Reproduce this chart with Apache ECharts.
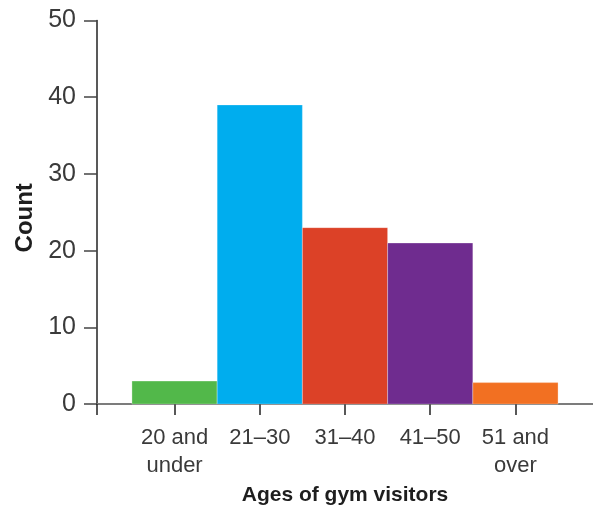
<!DOCTYPE html>
<html>
<head>
<meta charset="utf-8">
<script src="https://cdn.jsdelivr.net/npm/echarts@6/dist/echarts.min.js"></script>
<style>
  html, body { margin: 0; padding: 0; background: #ffffff; }
  #chart { width: 593px; height: 511px; }
</style>
</head>
<body>
<div id="chart"></div>
<script>
// Age groups of gym visitors and how many fall in each
const categories = ['20 and\nunder', '21–30', '31–40', '41–50', '51 and\nover'];
const counts = [3, 39, 23, 21, 2.8];
const barColors = ['#52b84a', '#00adee', '#dc4127', '#6f2c8f', '#f27022'];
const yTicks = [0, 10, 20, 30, 40, 50];

// Each group sits at an integer slot on a numeric x axis
const slots = categories.map((_, i) => i + 1);
const xMin = 0.09;
const xMax = 5.91;

const chart = echarts.init(document.getElementById('chart'), null, { renderer: 'canvas' });

const option = {
  animation: false,
  backgroundColor: '#ffffff',
  grid: { left: 97, right: 0, top: 20.5, bottom: 104.5 },
  xAxis: [
    {
      type: 'value',
      min: xMin,
      max: xMax,
      name: 'Ages of gym visitors',
      nameLocation: 'middle',
      nameGap: 78,
      nameTextStyle: {
        fontFamily: '"Liberation Sans", Arial, sans-serif',
        fontWeight: 'bold',
        fontSize: 21,
        color: '#1e1e1e'
      },
      axisLine: { show: true, onZero: false, lineStyle: { color: '#222222', width: 1.5 } },
      axisTick: {
        show: true,
        length: 11,
        lineStyle: { color: '#222222', width: 1.5 },
        customValues: [xMin].concat(slots)
      },
      axisLabel: {
        show: true,
        customValues: slots,
        formatter: v => categories[Math.round(v) - 1],
        margin: 20,
        fontFamily: '"Liberation Sans", Arial, sans-serif',
        fontSize: 22,
        lineHeight: 28,
        color: '#3a3a3a',
        align: 'center'
      },
      splitLine: { show: false }
    },
    {
      type: 'value',
      position: 'top',
      min: xMin,
      max: xMax,
      axisLine: { show: true, lineStyle: { color: '#7c7c7c', width: 2 } },
      axisTick: { show: false },
      axisLabel: { show: false },
      splitLine: { show: false }
    }
  ],
  yAxis: {
    type: 'value',
    min: yTicks[0],
    max: yTicks[yTicks.length - 1],
    interval: 10,
    name: 'Count',
    nameLocation: 'middle',
    nameGap: 60,
    nameRotate: 90,
    nameTextStyle: {
      fontFamily: '"Liberation Sans", Arial, sans-serif',
      fontWeight: 'bold',
      fontSize: 24,
      color: '#1e1e1e',
      padding: [0, 11, 0, 0]
    },
    axisLine: { show: true, lineStyle: { color: '#222222', width: 1.5 } },
    axisTick: { show: true, length: 13, lineStyle: { color: '#444444', width: 1.5 } },
    axisLabel: {
      margin: 21,
      fontFamily: '"Liberation Sans", Arial, sans-serif',
      fontSize: 25,
      color: '#3a3a3a'
    },
    splitLine: { show: false }
  },
  series: [
    {
      type: 'custom',
      xAxisIndex: 0,
      yAxisIndex: 0,
      encode: { x: 0, y: 1 },
      data: counts.map((v, i) => [slots[i], v, i]),
      renderItem: function (params, api) {
        const x = api.value(0);
        const topLeft = api.coord([x - 0.5, api.value(1)]);
        const bottomRight = api.coord([x + 0.5, 0]);
        return {
          type: 'rect',
          shape: {
            x: topLeft[0],
            y: topLeft[1],
            width: bottomRight[0] - topLeft[0],
            height: bottomRight[1] - topLeft[1]
          },
          style: { fill: barColors[api.value(2)], stroke: 'rgba(255,255,255,0.5)', lineWidth: 0.6 }
        };
      },
      z: 1
    }
  ]
};

chart.setOption(option);
</script>
</body>
</html>
